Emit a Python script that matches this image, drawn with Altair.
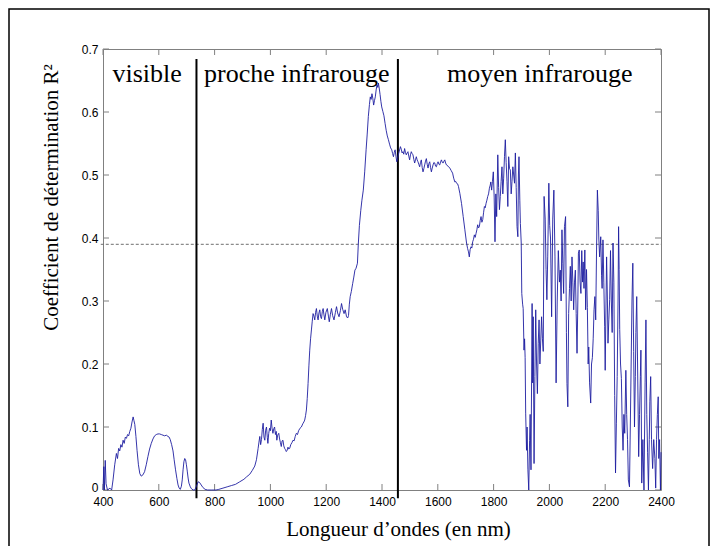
import altair as alt
import pandas as pd

# ---- data ----
wavelength = [
    400, 403, 405, 408, 411, 416, 425, 431, 436, 442, 448, 452, 456, 460, 464, 468, 472, 476, 480, 484,
    488, 492, 496, 500, 504, 508, 511, 514, 518, 522, 527, 532, 537, 543, 549, 555, 561, 567, 573, 579,
    585, 591, 597, 603, 609, 615, 621, 627, 633, 637, 641, 646, 651, 655, 660, 665, 669, 673, 677, 681,
    684, 687, 690, 693, 696, 699, 702, 705, 708, 713, 717, 723, 729, 735, 741, 746, 752, 758, 766, 775,
    790, 805, 815, 830, 845, 860, 875, 890, 905, 915, 926, 935, 944, 950, 956, 959, 962, 965, 968, 971,
    974, 977, 980, 983, 986, 989, 991, 994, 997, 1000, 1003, 1006, 1009, 1012, 1015, 1018, 1021, 1023, 1026, 1030,
    1033, 1036, 1039, 1042, 1045, 1048, 1051, 1054, 1057, 1060, 1063, 1066, 1069, 1073, 1077, 1081, 1085, 1089, 1093, 1097,
    1101, 1106, 1111, 1116, 1120, 1123, 1126, 1129, 1132, 1135, 1138, 1141, 1144, 1147, 1150, 1153, 1156, 1159, 1162, 1165,
    1168, 1171, 1174, 1177, 1180, 1183, 1186, 1189, 1192, 1195, 1199, 1204, 1208, 1211, 1215, 1219, 1223, 1228, 1233, 1237,
    1241, 1246, 1251, 1255, 1259, 1264, 1268, 1273, 1277, 1280, 1283, 1286, 1290, 1295, 1299, 1303, 1307, 1312, 1315, 1319,
    1324, 1328, 1333, 1338, 1343, 1347, 1351, 1355, 1358, 1361, 1364, 1367, 1370, 1373, 1376, 1379, 1382, 1385, 1387, 1390,
    1393, 1396, 1399, 1403, 1407, 1411, 1415, 1419, 1423, 1427, 1431, 1435, 1438, 1441, 1444, 1447, 1450, 1453, 1456, 1459,
    1462, 1466, 1469, 1472, 1475, 1478, 1481, 1484, 1487, 1490, 1493, 1496, 1499, 1502, 1505, 1508, 1511, 1514, 1517, 1520,
    1523, 1526, 1529, 1532, 1535, 1538, 1541, 1544, 1547, 1550, 1553, 1556, 1559, 1562, 1565, 1568, 1571, 1574, 1577, 1580,
    1583, 1586, 1589, 1592, 1595, 1598, 1601, 1604, 1607, 1610, 1613, 1616, 1619, 1622, 1625, 1628, 1631, 1637, 1643, 1648,
    1653, 1657, 1661, 1664, 1667, 1671, 1674, 1679, 1685, 1691, 1697, 1703, 1707, 1710, 1713, 1716, 1719, 1722, 1725, 1728,
    1731, 1734, 1737, 1740, 1743, 1746, 1749, 1752, 1755, 1758, 1761, 1764, 1767, 1770, 1773, 1776, 1779, 1782, 1785, 1788,
    1790, 1793, 1796, 1799, 1802, 1805, 1808, 1811, 1815, 1818, 1821, 1824, 1827, 1830, 1833, 1836, 1839, 1842, 1845, 1848,
    1851, 1854, 1857, 1860, 1863, 1866, 1869, 1872, 1875, 1878, 1881, 1884, 1887, 1889, 1891, 1894, 1896, 1899, 1901, 1904,
    1906, 1909, 1911, 1913, 1915, 1918, 1920, 1923, 1926, 1929, 1931, 1934, 1938, 1940, 1942, 1945, 1948, 1951, 1954, 1957,
    1960, 1963, 1966, 1969, 1972, 1975, 1978, 1981, 1985, 1988, 1991, 1994, 1998, 2001, 2004, 2008, 2012, 2016, 2020, 2024,
    2028, 2032, 2036, 2039, 2042, 2045, 2048, 2051, 2054, 2058, 2061, 2063, 2066, 2069, 2072, 2075, 2078, 2081, 2084, 2087,
    2090, 2093, 2096, 2099, 2102, 2104, 2107, 2110, 2113, 2116, 2119, 2121, 2124, 2127, 2130, 2133, 2136, 2139, 2141, 2144,
    2148, 2151, 2154, 2157, 2160, 2163, 2166, 2169, 2172, 2175, 2177, 2180, 2184, 2187, 2189, 2192, 2195, 2198, 2200, 2203,
    2205, 2208, 2210, 2213, 2216, 2219, 2222, 2225, 2228, 2231, 2234, 2237, 2240, 2243, 2246, 2248, 2250, 2252, 2255, 2258,
    2261, 2264, 2267, 2270, 2274, 2277, 2280, 2283, 2287, 2290, 2293, 2296, 2299, 2302, 2305, 2308, 2310, 2313, 2316, 2320,
    2323, 2326, 2328, 2331, 2335, 2339, 2343, 2346, 2349, 2352, 2355, 2358, 2360, 2363, 2366, 2370, 2374, 2378, 2381, 2384,
    2387, 2390, 2392, 2395, 2398, 2400,
]
r2 = [
    0.0, 0.037, 0.0, 0.047, 0.01, 0.0, 0.003, 0.0, 0.016, 0.04, 0.058, 0.05, 0.066, 0.062, 0.072, 0.068, 0.079, 0.074, 0.084, 0.082,
    0.088, 0.086, 0.093, 0.098, 0.108, 0.116, 0.11, 0.104, 0.085, 0.063, 0.04, 0.026, 0.022, 0.024, 0.029, 0.04, 0.053, 0.065, 0.074, 0.081,
    0.086, 0.088, 0.089, 0.089, 0.088, 0.087, 0.086, 0.087, 0.085, 0.084, 0.08, 0.072, 0.062, 0.048, 0.032, 0.018, 0.008, 0.003, 0.001, 0.006,
    0.016, 0.032, 0.045, 0.05, 0.048, 0.04, 0.03, 0.019, 0.011, 0.005, 0.002, 0.0, 0.0, 0.006, 0.013, 0.012, 0.008, 0.004, 0.001, 0.0,
    0.0, 0.0, 0.001, 0.003, 0.005, 0.007, 0.009, 0.013, 0.017, 0.021, 0.025, 0.031, 0.038, 0.048, 0.066, 0.076, 0.085, 0.072, 0.08, 0.096,
    0.106, 0.084, 0.079, 0.095, 0.1, 0.083, 0.074, 0.09, 0.098, 0.094, 0.111, 0.098, 0.09, 0.097, 0.1, 0.088, 0.093, 0.079, 0.087, 0.09,
    0.081, 0.075, 0.069, 0.078, 0.079, 0.07, 0.066, 0.064, 0.061, 0.063, 0.068, 0.065, 0.066, 0.072, 0.075, 0.079, 0.078, 0.085, 0.09, 0.088,
    0.094, 0.098, 0.1, 0.105, 0.108, 0.111, 0.118, 0.127, 0.145, 0.169, 0.197, 0.222, 0.24, 0.254, 0.268, 0.28, 0.276, 0.27, 0.282, 0.288,
    0.276, 0.27, 0.281, 0.286, 0.275, 0.272, 0.283, 0.288, 0.278, 0.27, 0.282, 0.288, 0.276, 0.267, 0.279, 0.288, 0.277, 0.27, 0.282, 0.291,
    0.281, 0.275, 0.285, 0.296, 0.287, 0.28, 0.286, 0.275, 0.273, 0.277, 0.295, 0.307, 0.315, 0.328, 0.338, 0.349, 0.352, 0.36, 0.39, 0.42,
    0.444, 0.46, 0.476, 0.505, 0.54, 0.565, 0.593, 0.612, 0.624, 0.62, 0.629, 0.622, 0.611, 0.618, 0.624, 0.635, 0.643, 0.639, 0.646, 0.638,
    0.628, 0.617, 0.608, 0.601, 0.594, 0.582, 0.571, 0.562, 0.556, 0.549, 0.543, 0.54, 0.534, 0.529, 0.536, 0.54, 0.53, 0.521, 0.526, 0.533,
    0.538, 0.545, 0.541, 0.535, 0.537, 0.533, 0.542, 0.536, 0.532, 0.535, 0.537, 0.53, 0.524, 0.532, 0.537, 0.534, 0.532, 0.525, 0.519, 0.524,
    0.529, 0.524, 0.521, 0.517, 0.513, 0.52, 0.524, 0.512, 0.505, 0.51, 0.516, 0.522, 0.526, 0.517, 0.511, 0.518, 0.521, 0.512, 0.505, 0.511,
    0.516, 0.52, 0.519, 0.514, 0.513, 0.518, 0.521, 0.517, 0.516, 0.521, 0.524, 0.52, 0.519, 0.522, 0.524, 0.519, 0.516, 0.514, 0.511, 0.507,
    0.503, 0.495, 0.489, 0.49, 0.487, 0.486, 0.482, 0.471, 0.455, 0.434, 0.413, 0.392, 0.383, 0.378, 0.37, 0.382, 0.386, 0.384, 0.394, 0.398,
    0.405, 0.401, 0.407, 0.413, 0.421, 0.416, 0.418, 0.428, 0.434, 0.425, 0.429, 0.44, 0.45, 0.448, 0.455, 0.46, 0.466, 0.47, 0.479, 0.484,
    0.489, 0.476, 0.49, 0.505, 0.465, 0.394, 0.47, 0.434, 0.532, 0.48, 0.445, 0.466, 0.49, 0.513, 0.47, 0.495, 0.529, 0.556, 0.52, 0.49,
    0.45, 0.529, 0.51, 0.508, 0.47, 0.49, 0.513, 0.5, 0.487, 0.535, 0.48, 0.418, 0.402, 0.5, 0.529, 0.46, 0.423, 0.392, 0.312, 0.295,
    0.288, 0.222, 0.24, 0.21, 0.122, 0.063, 0.1, 0.032, 0.0, 0.079, 0.12, 0.032, 0.296, 0.17, 0.275, 0.042, 0.18, 0.286, 0.2, 0.153,
    0.233, 0.27, 0.2, 0.238, 0.275, 0.24, 0.22, 0.466, 0.43, 0.35, 0.302, 0.37, 0.487, 0.42, 0.4, 0.275, 0.43, 0.476, 0.37, 0.17,
    0.3, 0.38, 0.33, 0.349, 0.3, 0.413, 0.36, 0.312, 0.418, 0.434, 0.25, 0.169, 0.132, 0.28, 0.32, 0.355, 0.3, 0.37, 0.33, 0.286,
    0.33, 0.349, 0.28, 0.217, 0.3, 0.376, 0.381, 0.33, 0.312, 0.38, 0.33, 0.362, 0.32, 0.381, 0.286, 0.35, 0.29, 0.2, 0.227, 0.17,
    0.138, 0.2, 0.21, 0.24, 0.286, 0.307, 0.27, 0.381, 0.476, 0.444, 0.4, 0.37, 0.402, 0.34, 0.32, 0.397, 0.33, 0.26, 0.19, 0.3,
    0.37, 0.3, 0.233, 0.27, 0.302, 0.38, 0.3, 0.25, 0.392, 0.33, 0.15, 0.027, 0.105, 0.18, 0.3, 0.418, 0.35, 0.255, 0.2, 0.177,
    0.1, 0.063, 0.12, 0.09, 0.19, 0.12, 0.08, 0.016, 0.005, 0.1, 0.2, 0.3, 0.36, 0.22, 0.1, 0.18, 0.25, 0.307, 0.2, 0.053,
    0.12, 0.18, 0.222, 0.011, 0.08, 0.0, 0.17, 0.27, 0.12, 0.06, 0.0, 0.08, 0.14, 0.18, 0.08, 0.034, 0.08, 0.05, 0.003, 0.08,
    0.12, 0.148, 0.05, 0.08, 0.0, 0.06,
]

x_ticks = [400, 600, 800, 1000, 1200, 1400, 1600, 1800, 2000, 2200, 2400]
y_ticks = [0, 0.1, 0.2, 0.3, 0.4, 0.5, 0.6, 0.7]

threshold = [0.39]
threshold_span = [392, 2400]
boundaries = [735, 1457]
boundary_span = [-0.013, 0.684]

region_labels = ["visible", "proche infrarouge", "moyen infrarouge"]
region_label_x = [434, 762, 1633]
region_label_y = [0.648, 0.648, 0.648]

W, H = 558, 441
GRAY = "#808080"
X0, X1, Y0, Y1 = 400, 2400, 0.0, 0.7
TICK_PX = 6
tick_dy = TICK_PX * (Y1 - Y0) / H      # inward tick length in y units
tick_dx = TICK_PX * (X1 - X0) / W      # inward tick length in x units

df = pd.DataFrame({"nm": wavelength, "r2": r2})
thr_df = pd.DataFrame({"x1": [threshold_span[0]], "x2": [threshold_span[1]], "y": threshold})
bnd_df = pd.DataFrame({"x": boundaries, "y1": [boundary_span[0]] * 2, "y2": [boundary_span[1]] * 2})
lab_df = pd.DataFrame({"label": region_labels, "x": region_label_x, "y": region_label_y})

xt_df = pd.concat([
    pd.DataFrame({"t": x_ticks, "a": Y0, "b": Y0 + tick_dy}),
    pd.DataFrame({"t": x_ticks, "a": Y1 - tick_dy, "b": Y1}),
])
yt_df = pd.concat([
    pd.DataFrame({"t": y_ticks, "a": X0, "b": X0 + tick_dx}),
    pd.DataFrame({"t": y_ticks, "a": X1 - tick_dx, "b": X1}),
])

xs = alt.Scale(domain=[X0, X1], nice=False, zero=False)
ys = alt.Scale(domain=[Y0, Y1], nice=False, zero=False)

frame = alt.Chart(lab_df.head(1)).mark_rect(
    filled=False, stroke="black", strokeWidth=1.5, fillOpacity=0
).encode(
    x=alt.value(-94), x2=alt.value(606), y=alt.value(-40), y2=alt.value(520)
)

line = alt.Chart(df).mark_line(color="#1e1ea0", strokeWidth=0.9).encode(
    x=alt.X("nm:Q", scale=xs, axis=alt.Axis(
        values=x_ticks, format="d", ticks=False, tickSize=0, domain=False, grid=False,
        labelFlush=False, labelPadding=6, labelFont="Liberation Sans", labelFontSize=12,
        labelColor="black",
        title="Longueur d’ondes (en nm)", titleFont="Liberation Serif", titleFontSize=21,
        titleFontWeight="normal", titleColor="black", titleX=295, titleY=45,
        titleAlign="center", titleBaseline="alphabetic")),
    y=alt.Y("r2:Q", scale=ys, axis=alt.Axis(
        values=y_ticks, labelExpr="datum.value == 0 ? '0' : format(datum.value, '.1f')",
        ticks=False, tickSize=0, domain=False, grid=False, labelFlush=False,
        labelOffset={"condition": {"test": "datum.value == 0", "value": -3}, "value": 0},
        labelPadding=5, labelFont="Liberation Sans", labelFontSize=12, labelColor="black",
        title="Coefficient de détermination R²", titleFont="Liberation Serif", titleFontSize=21,
        titleFontWeight="normal", titleColor="black", titleAngle=270, titleX=-46, titleY=148,
        titleAlign="center", titleBaseline="alphabetic")),
)

x_tick_marks = alt.Chart(xt_df).mark_rule(color=GRAY, strokeWidth=1).encode(
    x=alt.X("t:Q", scale=xs), y=alt.Y("a:Q", scale=ys), y2="b:Q")
y_tick_marks = alt.Chart(yt_df).mark_rule(color=GRAY, strokeWidth=1).encode(
    y=alt.Y("t:Q", scale=ys), x=alt.X("a:Q", scale=xs), x2="b:Q")

thr = alt.Chart(thr_df).mark_rule(color="#6e6e6e", strokeWidth=1, strokeDash=[3, 2]).encode(
    x=alt.X("x1:Q", scale=xs),
    x2="x2:Q",
    y=alt.Y("y:Q", scale=ys),
)

bnd = alt.Chart(bnd_df).mark_rule(color="black", strokeWidth=2).encode(
    x=alt.X("x:Q", scale=xs),
    y=alt.Y("y1:Q", scale=ys),
    y2="y2:Q",
)

labels = alt.Chart(lab_df).mark_text(
    font="Liberation Serif", fontSize=26, color="black", align="left", baseline="alphabetic"
).encode(
    x=alt.X("x:Q", scale=xs),
    y=alt.Y("y:Q", scale=ys),
    text="label:N",
)

chart = alt.layer(
    frame, x_tick_marks, y_tick_marks, thr, bnd, line, labels
).properties(
    width=W, height=H,
    autosize=alt.AutoSizeParams(type="none"),
    padding={"left": 103, "top": 49, "right": 58, "bottom": 56},
    background="white",
).configure_view(stroke=GRAY, strokeWidth=1)

chart.save("out.html", embed_options={"renderer": "svg", "actions": False})
